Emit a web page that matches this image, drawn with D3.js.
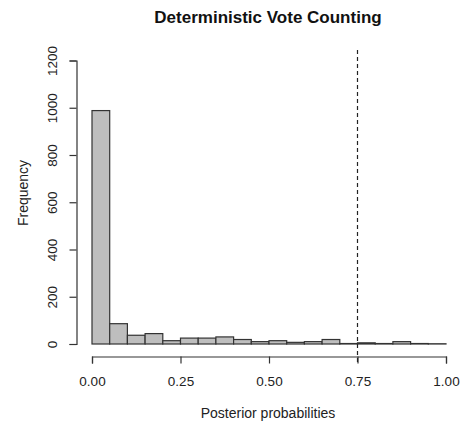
<!DOCTYPE html>
<html lang="en">
<head>
<meta charset="UTF-8">
<title>Deterministic Vote Counting</title>
<script src="https://d3js.org/d3.v7.min.js"></script>
<style>
  body { margin: 0; background: #fff; }
  text { font-family: "Liberation Sans", Arial, sans-serif; fill: #222; }
</style>
</head>
<body>
<div id="chart"></div>
<script>
// bin edges (width 0.05) and counts
const binStarts = [0.00, 0.05, 0.10, 0.15, 0.20, 0.25, 0.30, 0.35, 0.40, 0.45,
                   0.50, 0.55, 0.60, 0.65, 0.70, 0.75, 0.80, 0.85, 0.90, 0.95];
const counts = [988, 86, 37, 44, 14, 25, 25, 30, 19, 10,
                14, 7, 10, 19, 2, 5, 2, 10, 2, 1];
const binWidth = 0.05;
const xTicks = [0, 0.25, 0.5, 0.75, 1];
const yTicks = [0, 200, 400, 600, 800, 1000, 1200];
const cutoff = 0.75;

const w = 461, h = 427;

const svg = d3.select("#chart").append("svg")
  .attr("width", w).attr("height", h);

const x = d3.scaleLinear().domain([0, 1]).range([92, 446]);
const y = d3.scaleLinear().domain([0, 1200]).range([344, 60.5]);

// bars
svg.selectAll("rect.bar")
  .data(counts)
  .enter().append("rect")
  .attr("class", "bar")
  .attr("x", (d, i) => x(binStarts[i]))
  .attr("width", (d, i) => x(binStarts[i] + binWidth) - x(binStarts[i]))
  .attr("y", d => y(d))
  .attr("height", d => y(0) - y(d))
  .attr("fill", "#bebebe")
  .attr("stroke", "#333")
  .attr("stroke-width", 1.2);

// x axis, drawn a bit below the bars like R does
const xAxis = svg.append("g")
  .attr("transform", "translate(0,356.5)")
  .call(d3.axisBottom(x).tickValues(xTicks).tickFormat(d3.format(".2f")).tickSize(7).tickPadding(13));

// y axis
const yAxis = svg.append("g")
  .attr("transform", "translate(76.5,0)")
  .call(d3.axisLeft(y).tickValues(yTicks).tickFormat(d3.format("d")).tickSize(7).tickPadding(5));

[xAxis, yAxis].forEach(g => {
  g.select(".domain").attr("stroke", "#333").attr("stroke-width", 1.2);
  g.selectAll(".tick line").attr("stroke", "#333").attr("stroke-width", 1.2);
  g.selectAll(".tick text").attr("font-size", 13.5).attr("font-family", "Liberation Sans, Arial, sans-serif").attr("fill", "#222");
});

// R style: y tick labels rotated
yAxis.selectAll(".tick text")
  .attr("x", null)
  .attr("text-anchor", "middle")
  .attr("transform", "translate(-24,0) rotate(-90)")
  .attr("dy", "0.35em");

// cutoff line
svg.append("line")
  .attr("x1", x(cutoff)).attr("x2", x(cutoff))
  .attr("y1", 50).attr("y2", 363)
  .attr("stroke", "#222")
  .attr("stroke-width", 1.2)
  .attr("stroke-dasharray", "4,3");

// titles
svg.append("text")
  .attr("x", 268).attr("y", 23)
  .attr("text-anchor", "middle")
  .attr("font-size", 17).attr("font-weight", "bold")
  .style("fill", "#111")
  .text("Deterministic Vote Counting");

svg.append("text")
  .attr("x", 268).attr("y", 418)
  .attr("text-anchor", "middle")
  .attr("font-size", 14)
  .text("Posterior probabilities");

svg.append("text")
  .attr("transform", "translate(28,193) rotate(-90)")
  .attr("text-anchor", "middle")
  .attr("font-size", 14)
  .text("Frequency");
</script>
</body>
</html>
